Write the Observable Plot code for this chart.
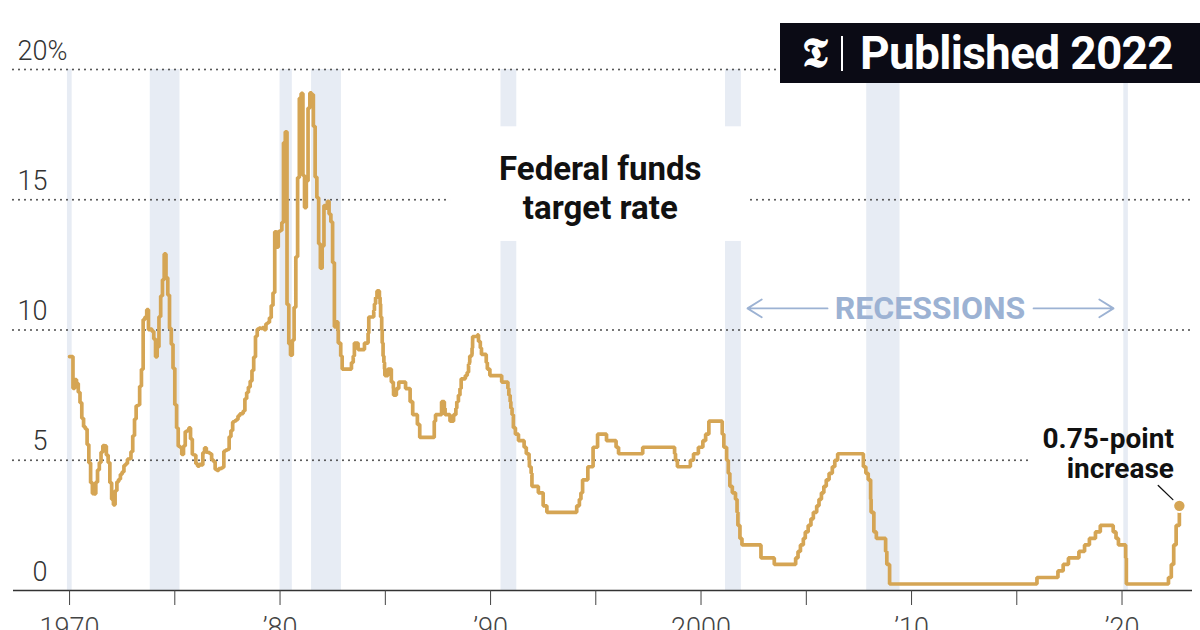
<!DOCTYPE html>
<html>
<head>
<meta charset="utf-8">
<script src="https://cdn.jsdelivr.net/npm/d3@7"></script>
<script src="https://cdn.jsdelivr.net/npm/@observablehq/plot@0.6"></script>
<style>
  html, body { margin: 0; padding: 0; background: #fff; }
  #wrap { position: relative; width: 1200px; height: 630px; overflow: hidden; }
  #badge {
    position: absolute; left: 780px; top: 23px; width: 420px; height: 60px;
    background: #0b0b15; color: #fff; display: flex; align-items: center;
    box-sizing: border-box; padding-left: 16px;
  }
  #badge .logo { font-family: "DejaVu Serif", serif; font-weight: bold; font-size: 42px; line-height: 1; width: 38px; text-align: center; }
  #badge .bar { width: 2px; height: 35px; background: #fff; margin: 0 17px 0 7px; }
  #badge .title { font-family: Roboto, "Noto Sans", sans-serif; font-weight: 700; font-size: 46px; letter-spacing: -0.7px; line-height: 1; }
</style>
</head>
<body>
<div id="wrap">
  <div id="chart"></div>
  <div id="badge"><span class="logo">𝕿</span><span class="bar"></span><span class="title">Published 2022</span></div>
</div>
<script>
// Effective federal funds rate, monthly averages, Jan 1970 – Sep 1982
const effectiveStart = [1970, 0];
const effectiveRate = [
  8.98, 8.98, 7.76, 8.10, 7.95, 7.61, 7.21, 6.61, 6.29, 6.20, 5.60, 4.90,
  4.14, 3.72, 3.71, 4.16, 4.63, 4.91, 5.31, 5.56, 5.55, 5.20, 4.91, 4.14,
  3.50, 3.29, 3.83, 4.17, 4.27, 4.46, 4.55, 4.80, 4.87, 5.04, 5.06, 5.33,
  5.94, 6.58, 7.09, 7.12, 7.84, 8.49, 10.40, 10.50, 10.78, 10.01, 10.03, 9.95,
  9.65, 8.97, 9.35, 10.51, 11.31, 11.93, 12.92, 12.01, 11.34, 10.06, 9.45, 8.53,
  7.13, 6.24, 5.54, 5.49, 5.22, 5.55, 6.10, 6.14, 6.24, 5.82, 5.22, 5.20,
  4.87, 4.77, 4.84, 4.82, 5.29, 5.48, 5.31, 5.29, 5.25, 5.02, 4.95, 4.65,
  4.61, 4.68, 4.69, 4.73, 5.35, 5.39, 5.42, 5.90, 6.14, 6.47, 6.51, 6.56,
  6.70, 6.78, 6.79, 6.89, 7.36, 7.60, 7.81, 8.04, 8.45, 8.96, 9.76, 10.03,
  10.07, 10.06, 10.09, 10.01, 10.24, 10.29, 10.47, 10.94, 11.43, 13.77, 13.18, 13.78,
  13.82, 14.13, 17.19, 17.61, 10.98, 9.47, 9.03, 9.61, 10.87, 12.81, 15.85, 18.90,
  19.08, 15.93, 14.70, 15.72, 18.52, 19.10, 19.04, 17.82, 15.87, 15.08, 13.31, 12.37,
  13.22, 14.78, 14.68, 14.94, 14.45, 14.15, 12.59, 10.12, 10.31
];

// Federal funds target rate (upper bound after 2008): date of each change, new level
const targetChanges = [
  ["1982-10-01", 10], ["1982-10-07", 9.5], ["1982-11-19", 9], ["1982-12-14", 8.5],
  ["1983-05-24", 8.75], ["1983-06-24", 9], ["1983-07-14", 9.5], ["1983-09-16", 9.25],
  ["1984-01-05", 9.5], ["1984-03-08", 9.875], ["1984-03-20", 10.5], ["1984-06-14", 10.75],
  ["1984-06-26", 11], ["1984-07-16", 11.25], ["1984-08-09", 11.5], ["1984-09-20", 11.25],
  ["1984-10-02", 11], ["1984-10-11", 10.5], ["1984-10-30", 10], ["1984-11-08", 9.5],
  ["1984-11-23", 9], ["1984-12-07", 8.75], ["1984-12-18", 8.5], ["1984-12-24", 8.25],
  ["1985-02-15", 8.5], ["1985-04-15", 8], ["1985-05-20", 7.75], ["1985-05-24", 7.5],
  ["1985-07-11", 7.75], ["1985-08-22", 8], ["1985-12-18", 7.75], ["1986-03-07", 7.25],
  ["1986-04-21", 6.75], ["1986-07-11", 6.375], ["1986-08-21", 5.875], ["1987-04-30", 6.5],
  ["1987-05-22", 6.75], ["1987-09-04", 7.25], ["1987-10-22", 7], ["1987-11-04", 6.75],
  ["1988-01-28", 6.5], ["1988-03-30", 6.75], ["1988-05-09", 7], ["1988-05-25", 7.25],
  ["1988-06-22", 7.5], ["1988-07-19", 7.75], ["1988-08-09", 8.125], ["1988-10-20", 8.25],
  ["1988-11-22", 8.375], ["1988-12-15", 8.6875], ["1988-12-29", 8.75], ["1989-01-05", 9],
  ["1989-02-09", 9.0625], ["1989-02-14", 9.3125], ["1989-02-23", 9.5625], ["1989-02-24", 9.75],
  ["1989-05-17", 9.8125], ["1989-06-06", 9.5625], ["1989-07-07", 9.3125], ["1989-07-27", 9.0625],
  ["1989-10-18", 8.75], ["1989-11-06", 8.5], ["1989-12-20", 8.25], ["1990-07-13", 8],
  ["1990-10-29", 7.75], ["1990-11-14", 7.5], ["1990-12-07", 7.25], ["1990-12-19", 7],
  ["1991-01-09", 6.75], ["1991-02-01", 6.25], ["1991-03-08", 6], ["1991-04-30", 5.75],
  ["1991-08-06", 5.5], ["1991-09-13", 5.25], ["1991-10-31", 5], ["1991-11-06", 4.75],
  ["1991-12-06", 4.5], ["1991-12-20", 4], ["1992-04-09", 3.75], ["1992-07-02", 3.25],
  ["1992-09-04", 3], ["1994-02-04", 3.25], ["1994-03-22", 3.5], ["1994-04-18", 3.75],
  ["1994-05-17", 4.25], ["1994-08-16", 4.75], ["1994-11-15", 5.5], ["1995-02-01", 6],
  ["1995-07-06", 5.75], ["1995-12-19", 5.5], ["1996-01-31", 5.25], ["1997-03-25", 5.5],
  ["1998-09-29", 5.25], ["1998-10-15", 5], ["1998-11-17", 4.75], ["1999-06-30", 5],
  ["1999-08-24", 5.25], ["1999-11-16", 5.5], ["2000-02-02", 5.75], ["2000-03-21", 6],
  ["2000-05-16", 6.5], ["2001-01-03", 6], ["2001-01-31", 5.5], ["2001-03-20", 5],
  ["2001-04-18", 4.5], ["2001-05-15", 4], ["2001-06-27", 3.75], ["2001-08-21", 3.5],
  ["2001-09-17", 3], ["2001-10-02", 2.5], ["2001-11-06", 2], ["2001-12-11", 1.75],
  ["2002-11-06", 1.25], ["2003-06-25", 1], ["2004-06-30", 1.25], ["2004-08-10", 1.5],
  ["2004-09-21", 1.75], ["2004-11-10", 2], ["2004-12-14", 2.25], ["2005-02-02", 2.5],
  ["2005-03-22", 2.75], ["2005-05-03", 3], ["2005-06-30", 3.25], ["2005-08-09", 3.5],
  ["2005-09-20", 3.75], ["2005-11-01", 4], ["2005-12-13", 4.25], ["2006-01-31", 4.5],
  ["2006-03-28", 4.75], ["2006-05-10", 5], ["2006-06-29", 5.25], ["2007-09-18", 4.75],
  ["2007-10-31", 4.5], ["2007-12-11", 4.25], ["2008-01-22", 3.5], ["2008-01-30", 3],
  ["2008-03-18", 2.25], ["2008-04-30", 2], ["2008-10-08", 1.5], ["2008-10-29", 1],
  ["2008-12-16", 0.25], ["2015-12-17", 0.5], ["2016-12-15", 0.75], ["2017-03-16", 1],
  ["2017-06-15", 1.25], ["2017-12-14", 1.5], ["2018-03-22", 1.75], ["2018-06-14", 2],
  ["2018-09-27", 2.25], ["2018-12-20", 2.5], ["2019-08-01", 2.25], ["2019-09-19", 2],
  ["2019-10-31", 1.75], ["2020-03-04", 1.25], ["2020-03-16", 0.25], ["2022-03-17", 0.5],
  ["2022-05-05", 1], ["2022-06-16", 1.75], ["2022-07-28", 2.5], ["2022-09-22", 3.25]
];

// Recessions (start, end)
const recessions = [
  ["1969-11-25", "1970-02-15"], ["1973-11-01", "1975-04-01"], ["1980-01-01", "1980-08-01"],
  ["1981-07-01", "1982-12-01"], ["1990-07-01", "1991-04-01"], ["2001-03-01", "2001-12-01"],
  ["2007-11-15", "2009-06-15"], ["2020-02-01", "2020-04-20"]
];

const yTicks = [0, 5, 10, 15, 20];
const xTickYears = [1970, 1975, 1980, 1985, 1990, 1995, 2000, 2005, 2010, 2015, 2020];
const xTickLabels = {1970: "1970", 1980: "’80", 1990: "’90", 2000: "2000", 2010: "’10", 2020: "’20"};

const parse = s => new Date(s + "T00:00:00Z");

const series = [
  ...effectiveRate.map((v, i) => ({date: new Date(Date.UTC(effectiveStart[0], effectiveStart[1] + i, 1)), rate: v})),
  ...targetChanges.map(([d, v]) => ({date: parse(d), rate: v}))
];
const latest = series[series.length - 1];

const lineColor = "#d5a554";
const bandColor = "#e7ecf4";
const recessionColor = "#9cb2d3";
const xDomain = [parse("1967-05-04"), parse("2023-05-08")];

// Layout of the annotations
const titleLabel = {date: parse("1995-03-20"), rate: 16.85, text: "Federal funds\ntarget rate"};
const titleKnockout = {x1: parse("1988-02-06"), x2: parse("2002-05-08"), y1: 13.4, y2: 17.8};
const recessionLabel = {date: parse("2010-11-17"), rate: 10.83, text: "RECESSIONS"};
const recessionArrows = [
  {x1: parse("2006-01-04"), x2: parse("2002-03-17"), y: 10.83},
  {x1: parse("2015-10-19"), x2: parse("2019-08-07"), y: 10.83}
];
const hikeLabel = {date: parse("2022-06-20"), rate: 6.3, text: "0.75-point\nincrease"};
const hikeLeader = {date: parse("2021-09-20"), rate: 4.03};
const fiveGridEnd = parse("2015-08-25");

const chart = Plot.plot({
  width: 1200,
  height: 630,
  marginLeft: 13,
  marginRight: 8,
  marginTop: 69,
  marginBottom: 40,
  style: {fontFamily: "Roboto, 'Noto Sans', sans-serif", background: "white", overflow: "hidden"},
  x: {type: "utc", domain: xDomain, axis: null},
  y: {domain: [0, 20], axis: null},
  marks: [
    Plot.rect(recessions, {x1: d => parse(d[0]), x2: d => parse(d[1]), y1: 0, y2: 20, fill: bandColor}),
    Plot.ruleY([10, 15, 20], {stroke: "#4a4a4a", strokeWidth: 2, strokeDasharray: "0,6", strokeLinecap: "round"}),
    Plot.ruleY([5], {y: d => d, x1: xDomain[0], x2: fiveGridEnd, stroke: "#4a4a4a", strokeWidth: 2, strokeDasharray: "0,6", strokeLinecap: "round"}),
    Plot.rect([titleKnockout], {x1: "x1", x2: "x2", y1: "y1", y2: "y2", fill: "white"}),
    Plot.ruleY([0], {stroke: "#333", strokeWidth: 1.5}),
    Plot.axisX({
      ticks: xTickYears.map(y => new Date(Date.UTC(y, 0, 1))),
      tickFormat: d => xTickLabels[d.getUTCFullYear()] ?? "",
      tickSize: 15, tickPadding: 12, fontSize: 27, fontWeight: 300, color: "#444"
    }),
    Plot.text(yTicks, {y: d => d, text: d => String(d), frameAnchor: "left", textAnchor: "end", lineAnchor: "bottom",
      dx: 34, dy: -10, fontSize: 27, fontWeight: 300, fill: "#333"}),
    Plot.text([20], {y: d => d, text: () => "%", frameAnchor: "left", textAnchor: "start", lineAnchor: "bottom",
      dx: 34, dy: -10, fontSize: 27, fontWeight: 300, fill: "#333"}),
    Plot.line(series, {x: "date", y: "rate", curve: "step-after", stroke: lineColor, strokeWidth: 3.7, strokeLinejoin: "miter"}),
    Plot.text([titleLabel], {x: "date", y: "rate", text: "text", lineAnchor: "top", lineHeight: 1.2,
      fontSize: 33, fontWeight: 700, fill: "#111"}),
    Plot.text([recessionLabel], {x: "date", y: "rate", text: "text", fontSize: 32, fontWeight: 700, fill: recessionColor}),
    Plot.arrow(recessionArrows, {x1: "x1", x2: "x2", y1: "y", y2: "y", stroke: recessionColor, strokeWidth: 1.8,
      headLength: 14, headAngle: 64}),
    Plot.text([hikeLabel], {x: "date", y: "rate", text: "text", textAnchor: "end", lineAnchor: "top", lineHeight: 1.08,
      fontSize: 28, fontWeight: 700, fill: "#111"}),
    Plot.arrow([hikeLeader], {x1: "date", y1: "rate", x2: () => latest.date, y2: () => latest.rate,
      stroke: "#111", strokeWidth: 1.3, headLength: 0, insetEnd: 9}),
    Plot.dot([latest], {x: "date", y: "rate", r: 6.2, fill: lineColor, stroke: "white", strokeWidth: 2})
  ]
});

document.getElementById("chart").appendChild(chart);
</script>
</body>
</html>
